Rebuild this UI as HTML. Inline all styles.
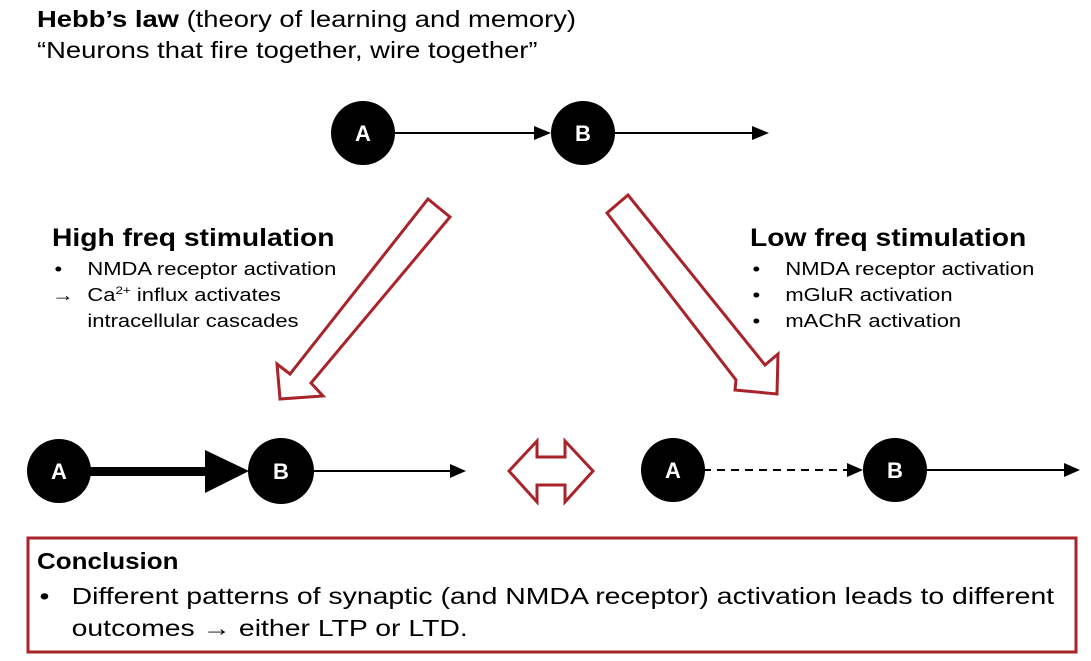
<!DOCTYPE html>
<html><head><style>
body{margin:0;background:#fff;width:1091px;height:661px;overflow:hidden;font-family:"Liberation Sans",sans-serif;}
svg{position:absolute;left:0;top:0}
.t{position:absolute;color:#000;white-space:nowrap;transform-origin:0 0}
sup{line-height:0;font-size:11px}
</style></head><body>
<svg width="1091" height="661">
<line x1="395" y1="133" x2="540" y2="133" stroke="#000" stroke-width="2"/>
<polygon points="534,126 551,133 534,140" fill="#000"/>
<line x1="615" y1="133" x2="758" y2="133" stroke="#000" stroke-width="2"/>
<polygon points="752,126 769,133 752,140" fill="#000"/>
<circle cx="363" cy="133" r="32" fill="#000"/>
<circle cx="583" cy="133" r="32" fill="#000"/>
<text x="363" y="141" font-size="22" font-weight="bold" fill="#fff" text-anchor="middle" font-family="Liberation Sans">A</text>
<text x="583" y="141" font-size="22" font-weight="bold" fill="#fff" text-anchor="middle" font-family="Liberation Sans">B</text>
<polygon points="428,199 450,217 311,383 323,396 280,399 277,364 290,374" fill="none" stroke="#a8232a" stroke-width="3"/>
<polygon points="628,195 607,213 736,380 735,390 777,394 778,354 765,365" fill="none" stroke="#a8232a" stroke-width="3"/>
<polygon points="509,471 537,441 537,457 565,457 565,441 593,471 565,502 565,485 537,485 537,502" fill="none" stroke="#a8232a" stroke-width="3"/>
<rect x="85" y="467" width="125" height="9" fill="#000"/>
<polygon points="205,450 249,471 205,493" fill="#000"/>
<line x1="310" y1="471" x2="455" y2="471" stroke="#000" stroke-width="2"/>
<polygon points="450,464 466,471 450,478" fill="#000"/>
<circle cx="59" cy="471" r="32" fill="#000"/>
<circle cx="281" cy="471" r="33" fill="#000"/>
<text x="59" y="479" font-size="22" font-weight="bold" fill="#fff" text-anchor="middle" font-family="Liberation Sans">A</text>
<text x="281" y="479" font-size="22" font-weight="bold" fill="#fff" text-anchor="middle" font-family="Liberation Sans">B</text>
<line x1="703" y1="470" x2="850" y2="470" stroke="#000" stroke-width="2" stroke-dasharray="8,6"/>
<polygon points="847,463 863,470 847,477" fill="#000"/>
<line x1="925" y1="470" x2="1068" y2="470" stroke="#000" stroke-width="2"/>
<polygon points="1064,463 1080,470 1064,477" fill="#000"/>
<circle cx="673" cy="470" r="32" fill="#000"/>
<circle cx="895" cy="470" r="32" fill="#000"/>
<text x="673" y="478" font-size="22" font-weight="bold" fill="#fff" text-anchor="middle" font-family="Liberation Sans">A</text>
<text x="895" y="478" font-size="22" font-weight="bold" fill="#fff" text-anchor="middle" font-family="Liberation Sans">B</text>
<rect x="28" y="538" width="1048" height="114" fill="none" stroke="#a8232a" stroke-width="3"/>
</svg>
<div class="t" style="left:37px;top:4px;font-size:23px;line-height:31px;transform:scaleX(1.19)"><b>Hebb’s law</b> (theory of learning and memory)<br>“Neurons that fire together, wire together”</div>
<div class="t" style="left:52px;top:224px;font-size:25px;font-weight:bold;transform:scaleX(1.13)">High freq stimulation</div>
<div class="t" style="left:52px;top:256px;font-size:18px;line-height:26px;transform:scaleX(1.22)">
<span style="display:inline-block;width:29px;padding-left:2px;box-sizing:border-box">•</span>NMDA receptor activation<br>
<span style="display:inline-block;width:29px">→</span>Ca<sup>2+</sup> influx activates<br>
<span style="display:inline-block;width:29px"></span>intracellular cascades</div>
<div class="t" style="left:750px;top:224px;font-size:25px;font-weight:bold;transform:scaleX(1.13)">Low freq stimulation</div>
<div class="t" style="left:750px;top:256px;font-size:18px;line-height:26px;transform:scaleX(1.22)">
<span style="display:inline-block;width:29px;padding-left:2px;box-sizing:border-box">•</span>NMDA receptor activation<br>
<span style="display:inline-block;width:29px;padding-left:2px;box-sizing:border-box">•</span>mGluR activation<br>
<span style="display:inline-block;width:29px;padding-left:2px;box-sizing:border-box">•</span>mAChR activation</div>
<div class="t" style="left:37px;top:548px;font-size:23px;font-weight:bold;transform:scaleX(1.13)">Conclusion</div>
<div class="t" style="left:37px;top:580px;font-size:23px;line-height:32px;transform:scaleX(1.235)">
<span style="display:inline-block;width:28px;padding-left:2px;box-sizing:border-box">•</span>Different patterns of synaptic (and NMDA receptor) activation leads to different<br>
<span style="display:inline-block;width:28px"></span>outcomes → either LTP or LTD.</div>
</body></html>
